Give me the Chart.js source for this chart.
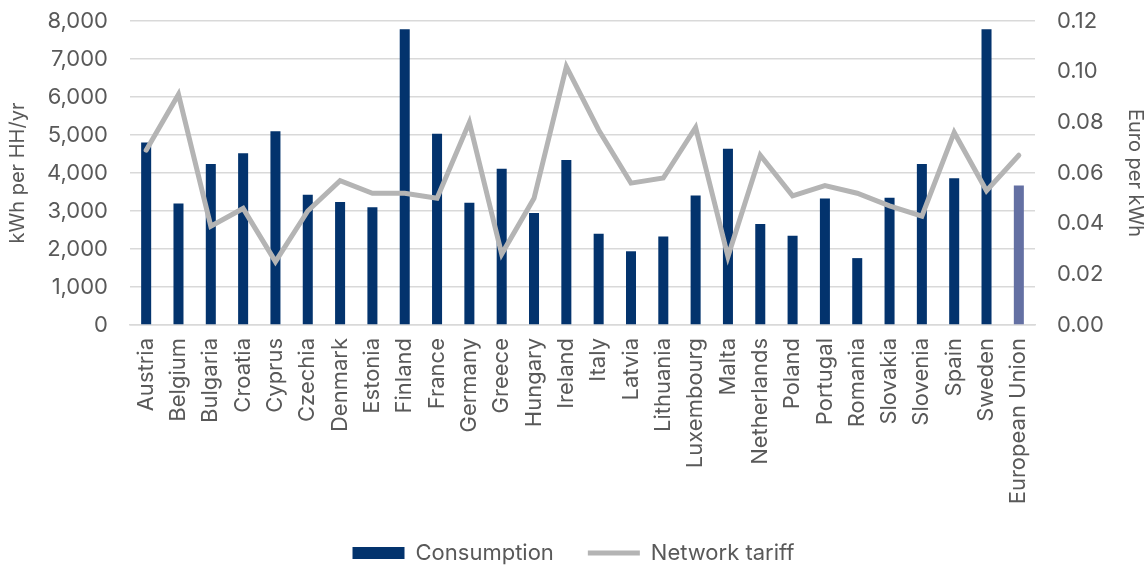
<!DOCTYPE html>
<html>
<head>
<meta charset="utf-8">
<script src="https://cdn.jsdelivr.net/npm/chart.js@4/dist/chart.umd.min.js"></script>
<style>
  html, body { margin: 0; padding: 0; background: #ffffff; }
  #wrap { width: 1147px; height: 568px; }
</style>
</head>
<body>
<div id="wrap"><canvas id="c" width="1147" height="568"></canvas></div>
<script>
// Household electricity consumption vs. network tariff by member state
const countries = [
  'Austria', 'Belgium', 'Bulgaria', 'Croatia', 'Cyprus', 'Czechia', 'Denmark',
  'Estonia', 'Finland', 'France', 'Germany', 'Greece', 'Hungary', 'Ireland',
  'Italy', 'Latvia', 'Lithuania', 'Luxembourg', 'Malta', 'Netherlands', 'Poland',
  'Portugal', 'Romania', 'Slovakia', 'Slovenia', 'Spain', 'Sweden', 'European Union'
];

// kWh per household per year
const consumption = [
  4800, 3200, 4240, 4520, 5100, 3430, 3240,
  3100, 7780, 5030, 3220, 4110, 2950, 4340,
  2400, 1940, 2330, 3410, 4640, 2660, 2350,
  3330, 1760, 3350, 4240, 3860, 7780, 3670
];

// Euro per kWh
const networkTariff = [
  0.069, 0.091, 0.039, 0.046, 0.025, 0.045, 0.057,
  0.052, 0.052, 0.050, 0.080, 0.028, 0.050, 0.102,
  0.077, 0.056, 0.058, 0.078, 0.027, 0.067, 0.051,
  0.055, 0.052, 0.047, 0.043, 0.076, 0.053, 0.067
];

const leftTicks = [0, 1000, 2000, 3000, 4000, 5000, 6000, 7000, 8000];
const rightTicks = [0, 0.02, 0.04, 0.06, 0.08, 0.10, 0.12];

const NAVY = '#03336d';
const EU_BLUE = '#6470a3';
const GREY_LINE = '#b4b4b4';
const TEXT = '#595959';
const GRID = '#d9d9d9';
const FONT = "Inter, sans-serif";

const barColors = countries.map(c => c === 'European Union' ? EU_BLUE : NAVY);

// keep the value axes from reserving extra room above the plot
const fitValueAxis = width => s => {
  s.width = width;
  s.paddingTop = 12;
  s.paddingBottom = 12;
};

new Chart(document.getElementById('c'), {
  data: {
    labels: countries,
    datasets: [
      {
        type: 'bar',
        label: 'Consumption',
        data: consumption,
        yAxisID: 'y',
        backgroundColor: barColors,
        borderWidth: 0,
        categoryPercentage: 1,
        barPercentage: 0.31,
        order: 2,
        pointStyle: 'rect'
      },
      {
        type: 'line',
        label: 'Network tariff',
        data: networkTariff,
        yAxisID: 'y1',
        borderColor: GREY_LINE,
        backgroundColor: GREY_LINE,
        borderWidth: 5,
        pointRadius: 0,
        tension: 0,
        borderCapStyle: 'round',
        order: 1,
        pointStyle: 'line'
      }
    ]
  },
  options: {
    responsive: false,
    animation: false,
    layout: { padding: { top: 21, bottom: -6, left: 0, right: 0 } },
    plugins: {
      tooltip: { enabled: false },
      legend: {
        position: 'bottom',
        labels: {
          usePointStyle: true,
          pointStyleWidth: 52,
          boxHeight: 12,
          padding: 34,
          color: TEXT,
          font: { family: FONT, size: 22 },
          sort: (a, b) => a.datasetIndex - b.datasetIndex,
          generateLabels: chart => {
            const items = Chart.defaults.plugins.legend.labels.generateLabels(chart);
            items.forEach(it => {
              if (it.datasetIndex === 0) {
                it.fillStyle = NAVY;
                it.strokeStyle = NAVY;
                it.lineWidth = 0;
              }
            });
            return items;
          }
        }
      }
    },
    scales: {
      x: {
        grid: { display: false, drawTicks: false },
        border: { display: true, color: GRID, width: 1.5 },
        ticks: {
          color: TEXT,
          font: { family: FONT, size: 22 },
          minRotation: 90,
          maxRotation: 90,
          autoSkip: false,
          padding: 13
        },
        afterFit: s => { s.height = 183; }
      },
      y: {
        position: 'left',
        min: 0,
        max: 8000,
        afterBuildTicks: s => { s.ticks = leftTicks.map(v => ({ value: v })); },
        grid: { color: GRID, lineWidth: 1.5, drawTicks: false },
        border: { display: false },
        ticks: {
          color: TEXT,
          font: { family: FONT, size: 22 },
          padding: 22,
          callback: v => v.toLocaleString('en-US')
        },
        title: {
          display: true,
          text: 'kWh per HH/yr',
          color: TEXT,
          font: { family: FONT, size: 20 },
          padding: { top: 6, bottom: 0 }
        },
        afterFit: fitValueAxis(130)
      },
      y1: {
        position: 'right',
        min: 0,
        max: 0.12,
        afterBuildTicks: s => { s.ticks = rightTicks.map(v => ({ value: v })); },
        grid: { drawOnChartArea: false, drawTicks: false },
        border: { display: false },
        ticks: {
          color: TEXT,
          font: { family: FONT, size: 22 },
          padding: 22,
          callback: v => v.toFixed(2)
        },
        title: {
          display: true,
          text: 'Euro per kWh',
          color: TEXT,
          font: { family: FONT, size: 20 },
          padding: { top: 0, bottom: 2 }
        },
        afterFit: fitValueAxis(112)
      }
    }
  }
});
</script>
</body>
</html>
